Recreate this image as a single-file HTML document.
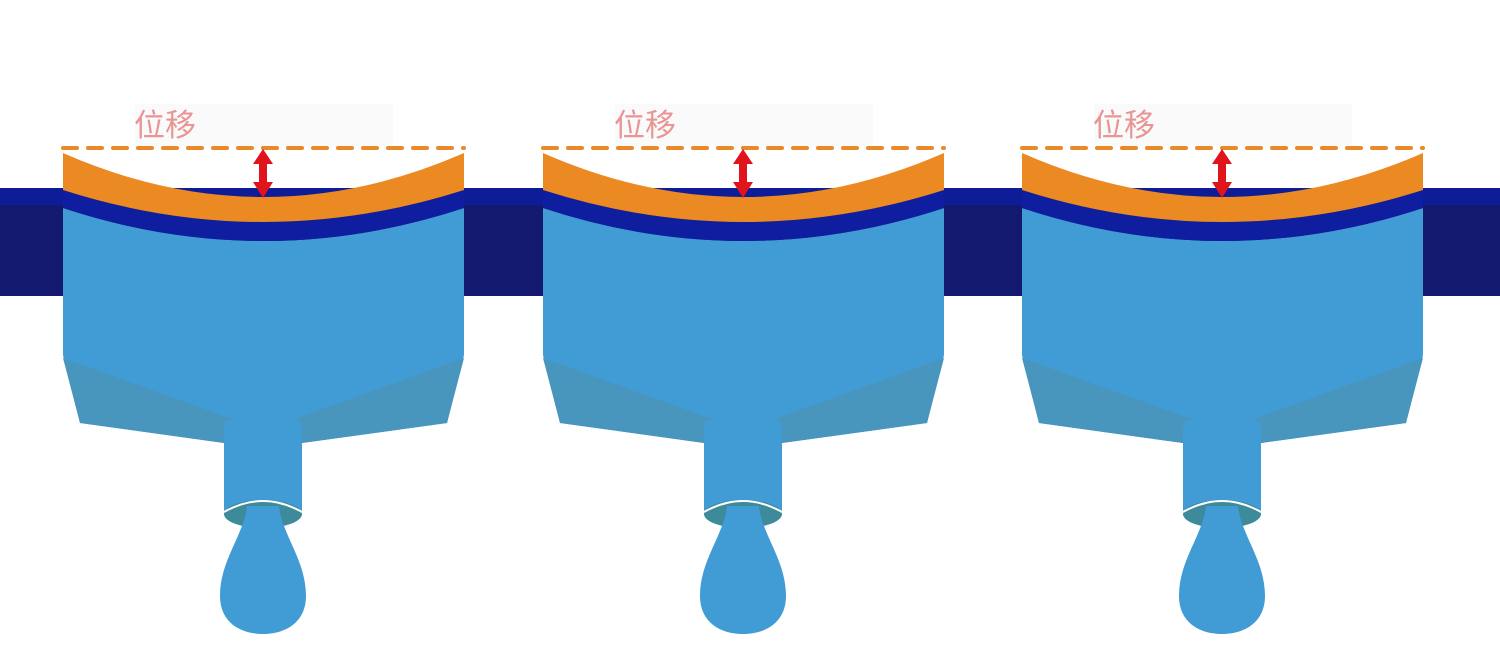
<!DOCTYPE html>
<html><head><meta charset="utf-8"><style>
html,body{margin:0;padding:0;background:#fff;}
svg{display:block}
</style></head><body>
<svg width="1500" height="671" viewBox="0 0 1500 671" xmlns="http://www.w3.org/2000/svg">
<defs>
<g id="u">
  <rect x="135" y="104" width="258" height="42" fill="#fafafa"/>
  <text x="134" y="136" font-family="'Liberation Sans','Noto Sans CJK SC',sans-serif" font-size="31" fill="#e89595">位移</text>
  <!-- body -->
  <path d="M63,208 Q263,274 464,208 L464,355 L447,423 L302,443 L302,512 L224,512 L224,443 L80,423 L63,355 Z" fill="#419bd4"/>
  <!-- shaded chamfers -->
  <path d="M63,358 L235,420 L224,443 L80,423 Z" fill="#4896bd"/>
  <path d="M464,358 L292,420 L302,443 L447,423 Z" fill="#4896bd"/>
  <rect x="224" y="420" width="78" height="92" rx="6" fill="#419bd4"/>
  <!-- blue band -->
  <path d="M63,190 Q263,254 464,190 L464,208 Q263,274 63,208 Z" fill="#0f1e9e"/>
  <!-- orange -->
  <path d="M63,153 Q263,241 464,153 L464,190 Q263,254 63,190 Z" fill="#eb8a22"/>
  <!-- dashed line -->
  <line x1="63" y1="148" x2="464" y2="148" stroke="#e88a2a" stroke-width="4" stroke-dasharray="14,11" stroke-linecap="round"/>
  <!-- arrow -->
  <path d="M263,149 L273,164 L267,164 L267,182 L273,182 L263,198 L253,182 L259,182 L259,164 L253,164 Z" fill="#e0141b"/>
  <!-- ring -->
  <ellipse cx="263" cy="514" rx="39" ry="14" fill="#3c8a9a"/>
  <path d="M224,512 Q263,490 302,512" fill="none" stroke="#fff" stroke-width="2"/>
  <!-- drop -->
  <path d="M247,506 L279,506 C282,535 306,560 306,596 C306,622 286,634 263,634 C240,634 220,622 220,596 C220,560 244,535 247,506 Z" fill="#419bd4"/>
</g>
</defs>
<rect x="0" y="188" width="1500" height="108" fill="#13196f"/>
<rect x="0" y="188" width="1500" height="17" fill="#0f1c98"/>
<use href="#u"/>
<use href="#u" x="480"/>
<use href="#u" x="959"/>
</svg>
</body></html>
